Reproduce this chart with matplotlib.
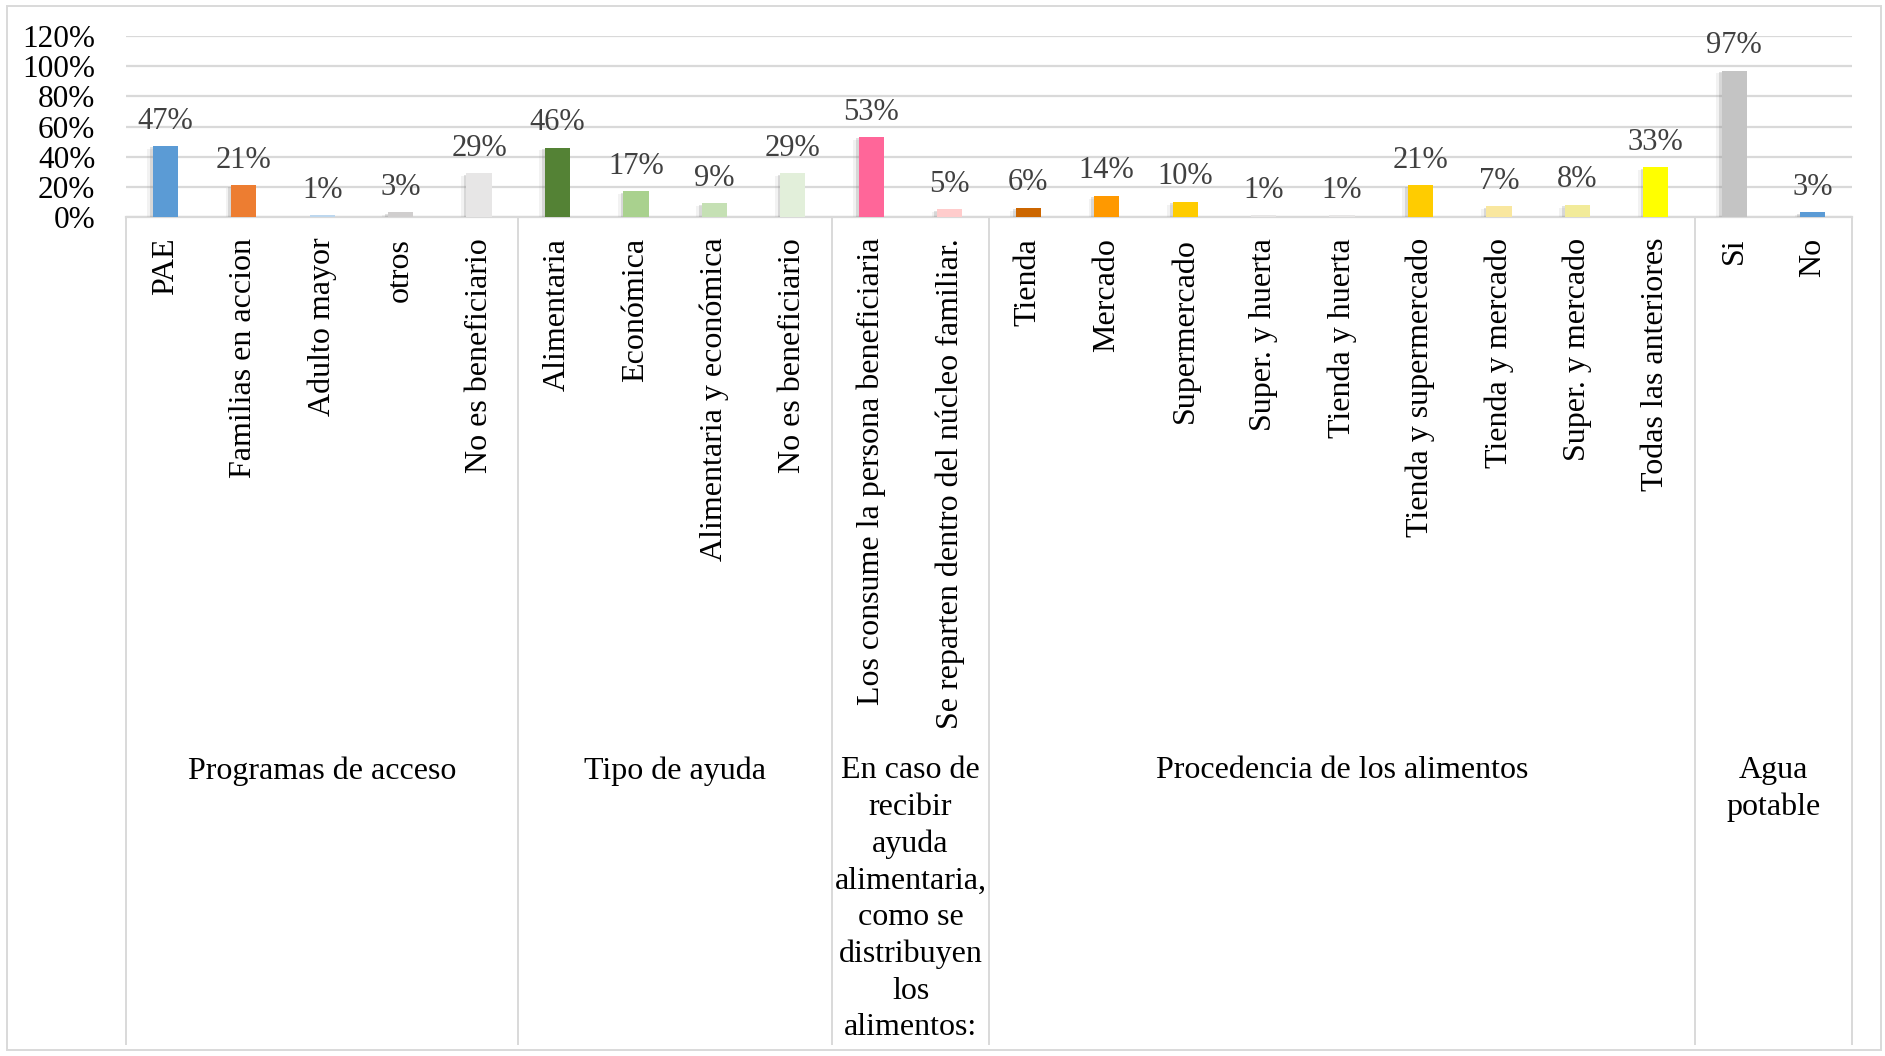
import matplotlib
matplotlib.use("Agg")
import matplotlib.pyplot as plt
import matplotlib.patheffects as pe
import matplotlib.transforms as mtransforms
from matplotlib.patches import Rectangle

plt.rcParams["font.family"] = ["Liberation Serif", "DejaVu Serif"]

# Data
categories = [
    "PAE", "Familias en accion", "Adulto mayor", "otros", "No es beneficiario",
    "Alimentaria", "Económica", "Alimentaria y económica", "No es beneficiario",
    "Los consume la persona beneficiaria", "Se reparten dentro del núcleo familiar.",
    "Tienda", "Mercado", "Supermercado", "Super. y huerta", "Tienda y huerta",
    "Tienda y supermercado", "Tienda y mercado", "Super. y mercado", "Todas las anteriores",
    "Si", "No",
]
values = [47, 21, 1, 3, 29, 46, 17, 9, 29, 53, 5, 6, 14, 10, 1, 1, 21, 7, 8, 33, 97, 3]
colors = [
    "#5B9BD5", "#ED7D31", "#BDD7EE", "#D0CECE", "#E7E6E6",
    "#548235", "#A9D18E", "#C5E0B4", "#E2EFDA",
    "#FF6699", "#FFCCCC",
    "#CC6600", "#FF9900", "#FFCC00", "#E7E6E6", "#E7E6E6",
    "#FFCC00", "#F9E79F", "#F2EB9A", "#FFFF00",
    "#C4C4C4", "#5B9BD5",
]
groups = [
    "Programas de acceso",
    "Tipo de ayuda",
    "En caso de\nrecibir\nayuda\nalimentaria,\ncomo se\ndistribuyen\nlos\nalimentos:",
    "Procedencia de los alimentos",
    "Agua\npotable",
]
group_sizes = [5, 4, 2, 9, 2]

W, H = 1885, 1056
fig = plt.figure(figsize=(W / 100, H / 100), dpi=100)
ax = fig.add_axes([126 / W, 1 - 217 / H, 1726 / W, (217 - 36) / H])

x = list(range(len(values)))
bars = ax.bar(x, [v / 100 for v in values], width=0.32, color=colors, zorder=3)
for b in bars:
    b.set_path_effects([
        pe.SimplePatchShadow(offset=(-4, -2), shadow_rgbFace="#999999", alpha=0.12),
        pe.SimplePatchShadow(offset=(-2, -1), shadow_rgbFace="#777777", alpha=0.22),
        pe.Normal()])

for xi, v in zip(x, values):
    ax.text(xi, v / 100 + 0.07, f"{v}%", ha="center", va="bottom",
            fontsize=22, color="#404040")

ax.set_xlim(-0.5, len(values) - 0.5)
ax.set_ylim(0, 1.2)
ax.set_yticks([i * 0.2 for i in range(7)])
ax.set_yticklabels([f"{i * 20}%" for i in range(7)], fontsize=22.5)
ax.yaxis.grid(True, color="#D9D9D9", linewidth=1.6, zorder=0)
ax.tick_params(axis="y", length=0, pad=22)
ax.set_xticks(x)
ax.set_xticklabels(categories, rotation=90, fontsize=23)
ax.tick_params(axis="x", length=0, pad=15)
for s in ax.spines.values():
    s.set_visible(False)

# group separators and labels below the axis
trans = mtransforms.blended_transform_factory(ax.transData, fig.transFigure)
y_top = 1 - 217 / H
y_bot = 1 - 1044 / H
edges = [-0.5]
for n in group_sizes:
    edges.append(edges[-1] + n)
for e in edges:
    ax.plot([e, e], [y_top, y_bot], transform=trans, color="#D9D9D9",
            linewidth=1.4, clip_on=False)
ax.plot([edges[0], edges[-1]], [y_top, y_top], transform=trans, color="#D9D9D9",
        linewidth=1.6, clip_on=False)
for g, a, b in zip(groups, edges[:-1], edges[1:]):
    ax.text((a + b) / 2, 1 - 756 / H, g, transform=trans, ha="center", va="top",
            fontsize=23, linespacing=1.345)

fig.patches.append(Rectangle((7 / W, 6 / H), 1874 / W, 1044 / H, transform=fig.transFigure,
                             fill=False, edgecolor="#D9D9D9", linewidth=1.4))

fig.savefig("out.png", dpi=100, facecolor="white")
